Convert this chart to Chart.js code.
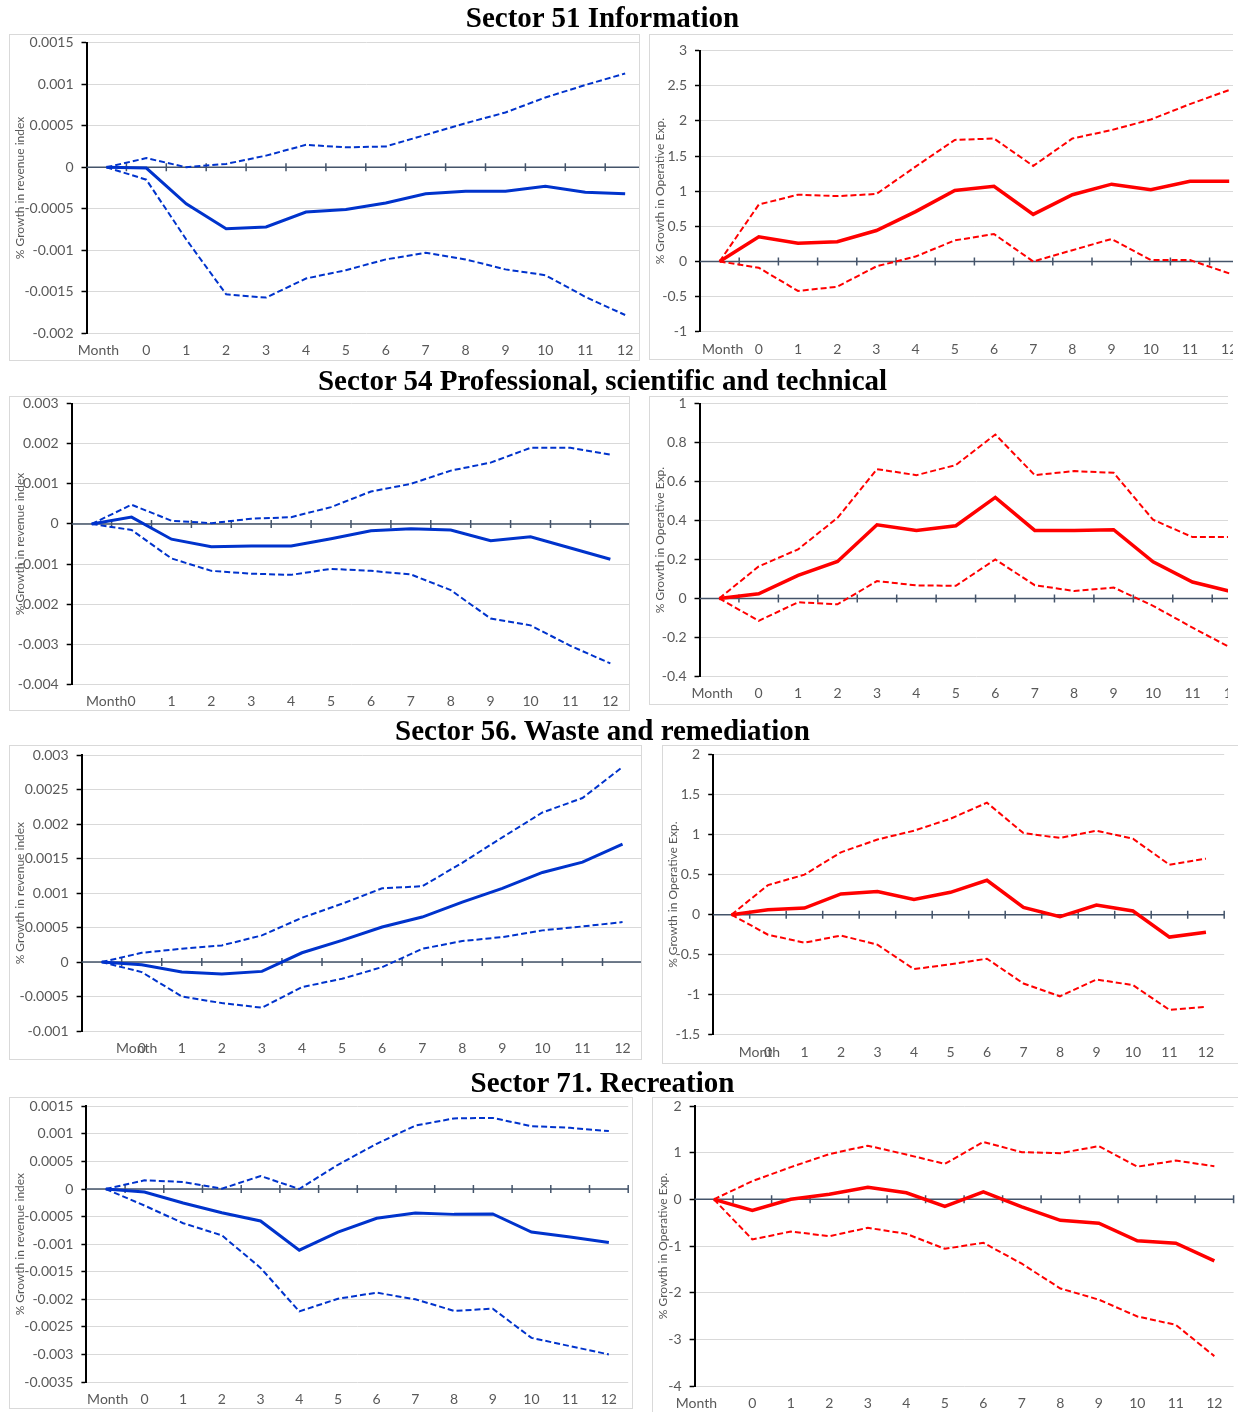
<!DOCTYPE html>
<html>
<head>
<meta charset="utf-8">
<script src="https://cdn.jsdelivr.net/npm/chart.js@4.4.1/dist/chart.umd.min.js"></script>
<style>
  body { margin: 0; width: 1238px; height: 1412px; overflow: hidden; background: #fff; position: relative; }
  .row-title { position: absolute; left: 0; width: 1205px; text-align: center; line-height: 32px;
    font: bold 29px "Liberation Serif", "Times New Roman", serif; color: #000; white-space: nowrap; }
  .panel { position: absolute; overflow: hidden; }
  .frame { position: absolute; border: 1px solid #d9d9d9; box-sizing: border-box; pointer-events: none; }
  canvas { position: absolute; left: 0; top: 0; }
</style>
</head>
<body>
<script>
// x categories (Excel puts "Month" in the first slot)
const months = ["Month", "0", "1", "2", "3", "4", "5", "6", "7", "8", "9", "10", "11", "12"];

// Sector 51 Information
const s51RevMean  = [0, -0.00001, -0.00044, -0.00074, -0.00072, -0.00054, -0.00051, -0.00043, -0.00032, -0.00029, -0.00029, -0.00023, -0.0003, -0.00032];
const s51RevUpper = [0, 0.00011, 0, 0.00004, 0.00014, 0.00027, 0.00024, 0.00025, 0.00039, 0.00053, 0.00066, 0.00084, 0.00099, 0.00113];
const s51RevLower = [0, -0.00015, -0.00087, -0.00153, -0.00157, -0.00134, -0.00124, -0.00111, -0.00103, -0.00111, -0.00123, -0.0013, -0.00156, -0.00178];
const s51OpMean   = [0, 0.35, 0.26, 0.28, 0.44, 0.71, 1.01, 1.07, 0.67, 0.95, 1.10, 1.02, 1.14, 1.14];
const s51OpUpper  = [0, 0.81, 0.95, 0.93, 0.96, 1.35, 1.73, 1.75, 1.36, 1.75, 1.87, 2.02, 2.24, 2.44];
const s51OpLower  = [0, -0.09, -0.42, -0.36, -0.07, 0.07, 0.30, 0.39, 0, 0.16, 0.32, 0.02, 0.02, -0.17];

// Sector 54 Professional, scientific and technical
const s54RevMean  = [0, 0.00017, -0.00038, -0.00057, -0.00055, -0.00055, -0.00037, -0.00017, -0.00012, -0.00015, -0.00042, -0.00032, -0.0006, -0.00088];
const s54RevUpper = [0, 0.00048, 0.00008, 0.00002, 0.00013, 0.00017, 0.00042, 0.00081, 0.001, 0.00133, 0.00153, 0.0019, 0.0019, 0.00173];
const s54RevLower = [0, -0.00015, -0.00086, -0.00117, -0.00124, -0.00127, -0.00112, -0.00117, -0.00126, -0.00165, -0.00236, -0.00253, -0.00304, -0.00348];
const s54OpMean   = [0, 0.024, 0.118, 0.19, 0.378, 0.349, 0.373, 0.519, 0.349, 0.349, 0.353, 0.188, 0.084, 0.034];
const s54OpUpper  = [0, 0.164, 0.252, 0.414, 0.664, 0.633, 0.685, 0.842, 0.633, 0.654, 0.645, 0.404, 0.315, 0.315];
const s54OpLower  = [0, -0.115, -0.02, -0.03, 0.089, 0.067, 0.065, 0.2, 0.068, 0.038, 0.056, -0.038, -0.15, -0.257];

// Sector 56. Waste and remediation
const s56RevMean  = [0, -0.00004, -0.000145, -0.000174, -0.000135, 0.000135, 0.000314, 0.000508, 0.000653, 0.00087, 0.00107, 0.0013, 0.00145, 0.00171];
const s56RevUpper = [0, 0.000135, 0.000193, 0.000242, 0.000387, 0.000643, 0.000846, 0.00107, 0.0011, 0.00144, 0.00181, 0.00217, 0.00238, 0.00283];
const s56RevLower = [0, -0.000145, -0.000498, -0.000595, -0.000662, -0.000363, -0.000242, -0.000073, 0.000193, 0.000305, 0.000363, 0.00046, 0.000517, 0.00058];
const s56OpMean   = [0, 0.063, 0.083, 0.26, 0.29, 0.19, 0.28, 0.43, 0.09, -0.025, 0.12, 0.046, -0.28, -0.22];
const s56OpUpper  = [0, 0.37, 0.5, 0.78, 0.94, 1.05, 1.2, 1.4, 1.02, 0.96, 1.05, 0.95, 0.625, 0.70];
const s56OpLower  = [0, -0.25, -0.35, -0.26, -0.375, -0.68, -0.62, -0.55, -0.86, -1.02, -0.81, -0.88, -1.19, -1.15];

// Sector 71. Recreation
const s71RevMean  = [0, -0.000054, -0.000254, -0.00043, -0.00058, -0.00111, -0.00078, -0.00053, -0.000435, -0.00046, -0.000453, -0.00078, -0.00087, -0.00097];
const s71RevUpper = [0, 0.000157, 0.000127, 0.000006, 0.000236, 0, 0.00044, 0.00082, 0.00115, 0.00128, 0.00129, 0.00114, 0.00111, 0.00105];
const s71RevLower = [0, -0.0003, -0.00062, -0.00084, -0.00143, -0.00222, -0.00199, -0.00188, -0.002, -0.00221, -0.00217, -0.0027, -0.00285, -0.003];
const s71OpMean   = [0, -0.24, 0, 0.11, 0.26, 0.14, -0.15, 0.16, -0.16, -0.45, -0.51, -0.89, -0.94, -1.32];
const s71OpUpper  = [0, 0.39, 0.69, 0.97, 1.15, 0.96, 0.76, 1.23, 1.01, 0.99, 1.14, 0.70, 0.83, 0.71];
const s71OpLower  = [0, -0.86, -0.69, -0.79, -0.61, -0.74, -1.06, -0.93, -1.38, -1.91, -2.15, -2.51, -2.69, -3.36];

const rowTitles = ["Sector 51 Information", "Sector 54 Professional, scientific and technical",
                   "Sector 56. Waste and remediation", "Sector 71. Recreation"];

const BLUE = "#0033cc";
const RED = "#ff0000";
const REV_TITLE = "% Growth in revenue index";
const OP_TITLE = "% Growth in Operative Exp.";

// zero axis with Excel style cross ticks + the offset "Month" label
const excelAxes = {
    id: "excelAxes",
    beforeDatasetsDraw(chart, args, opts) {
        const { ctx, chartArea: a, scales: { x, y } } = chart;
        const y0 = y.getPixelForValue(0);
        const half = (x.getPixelForValue(1) - x.getPixelForValue(0)) / 2;
        ctx.save();
        ctx.strokeStyle = "#44546a";
        ctx.lineWidth = 1.5;
        ctx.beginPath();
        ctx.moveTo(a.left, y0);
        ctx.lineTo(a.right, y0);
        for (let i = 0; i < months.length; i++) {
            const px = x.getPixelForValue(i) + half;
            ctx.moveTo(px, y0 - 4);
            ctx.lineTo(px, y0 + 4);
        }
        ctx.stroke();
        ctx.restore();
    },
    afterDraw(chart, args, opts) {
        const { ctx, scales: { x } } = chart;
        ctx.save();
        ctx.font = "14px Lato";
        ctx.fillStyle = "#595959";
        ctx.textAlign = "center";
        ctx.textBaseline = "middle";
        ctx.fillText(months[0], x.getPixelForValue(0) + opts.shift, x.top + 9 + 8.4);
        ctx.restore();
    },
};

const panels = [
    { box: [9, 34, 631, 327], plotL: 86.5, plotT: 42.7, plotB: 333.3, catW: 39.9, y: [-0.002, 0.0015, 0.0005], shift: -8,
      color: BLUE, title: REV_TITLE, mean: s51RevMean, upper: s51RevUpper, lower: s51RevLower },
    { box: [649, 34, 584, 326], plotL: 700, plotT: 50.7, plotB: 331.7, catW: 39.2, y: [-1, 3, 0.5], shift: 3, open: true,
      color: RED, title: OP_TITLE, mean: s51OpMean, upper: s51OpUpper, lower: s51OpLower },
    { box: [9, 396, 621, 315], plotL: 71.7, plotT: 403.7, plotB: 684.3, catW: 39.9, y: [-0.004, 0.003, 0.001], shift: 15,
      color: BLUE, title: REV_TITLE, mean: s54RevMean, upper: s54RevUpper, lower: s54RevLower },
    { box: [649, 396, 579, 309], plotL: 699.5, plotT: 403.7, plotB: 676.3, catW: 39.44, y: [-0.4, 1, 0.2], shift: -7, open: true,
      color: RED, title: OP_TITLE, mean: s54OpMean, upper: s54OpUpper, lower: s54OpLower },
    { box: [9, 745, 633, 315], plotL: 81.6, plotT: 755.3, plotB: 1031, catW: 40.07, y: [-0.001, 0.003, 0.0005], shift: 35,
      color: BLUE, title: REV_TITLE, mean: s56RevMean, upper: s56RevUpper, lower: s56RevLower },
    { box: [662, 745, 577, 319], plotL: 713.2, plotT: 754.7, plotB: 1034.7, catW: 36.5, y: [-1.5, 2, 0.5], shift: 28,
      color: RED, title: OP_TITLE, mean: s56OpMean, upper: s56OpUpper, lower: s56OpLower },
    { box: [9, 1097, 624, 312], plotL: 86.4, plotT: 1106.3, plotB: 1382, catW: 38.7, y: [-0.0035, 0.0015, 0.0005], shift: 2,
      color: BLUE, title: REV_TITLE, mean: s71RevMean, upper: s71RevUpper, lower: s71RevLower },
    { box: [652, 1097, 587, 316], plotL: 694.6, plotT: 1106, plotB: 1386, catW: 38.5, y: [-4, 2, 1], shift: -17.5,
      color: RED, title: OP_TITLE, mean: s71OpMean, upper: s71OpUpper, lower: s71OpLower },
];

function place(el, box) {
    el.style.left = box[0] + "px";
    el.style.top = box[1] + "px";
    el.style.width = box[2] + "px";
    el.style.height = box[3] + "px";
}

function drawPanel(p) {
    const wrap = document.createElement("div");
    wrap.className = "panel";
    place(wrap, p.box);
    const frame = document.createElement("div");
    frame.className = "frame";
    place(frame, p.box);
    if (p.open) frame.style.borderRight = "none";

    const axisW = p.plotL - p.box[0];
    const areaW = months.length * p.catW;
    const cw = Math.ceil(axisW + areaW) + 2;
    const canvas = document.createElement("canvas");
    canvas.width = cw;
    canvas.height = p.box[3];
    canvas.style.width = cw + "px";
    canvas.style.height = p.box[3] + "px";
    wrap.appendChild(canvas);
    document.body.appendChild(wrap);
    document.body.appendChild(frame);

    const dashed = { borderColor: p.color, borderWidth: 2, borderDash: [6, 3] };
    new Chart(canvas, {
        type: "line",
        data: {
            labels: months,
            datasets: [
                { label: "upper", data: p.upper, ...dashed },
                { label: "lower", data: p.lower, ...dashed },
                { label: "mean", data: p.mean, borderColor: p.color, borderWidth: p.color === RED ? 3.5 : 3 },
            ],
        },
        options: {
            responsive: false,
            animation: false,
            devicePixelRatio: 1,
            layout: { padding: { top: p.plotT - p.box[1], right: cw - axisW - areaW, left: 0, bottom: 0 } },
            elements: { point: { radius: 0 }, line: { tension: 0 } },
            plugins: {
                legend: { display: false },
                tooltip: { enabled: false },
                excelAxes: { shift: p.shift },
            },
            scales: {
                x: {
                    offset: true,
                    grid: { display: false, drawTicks: false },
                    border: { display: false },
                    ticks: {
                        padding: 9,
                        autoSkip: false,
                        maxRotation: 0,
                        color: "#595959",
                        font: { family: "Lato", size: 14 },
                        callback: (v, i) => (i === 0 ? "" : months[i]),
                    },
                    afterFit: (s) => {
                        s.height = p.box[1] + p.box[3] - p.plotB;
                        s.paddingLeft = 0;
                        s.paddingRight = 0;
                    },
                },
                y: {
                    min: p.y[0],
                    max: p.y[1],
                    ticks: {
                        stepSize: p.y[2],
                        padding: 8,
                        color: "#595959",
                        font: { family: "Lato", size: 14 },
                        callback: (v) => String(+v.toFixed(6)),
                    },
                    grid: { color: "#d9d9d9", lineWidth: 1, tickColor: "#000", tickLength: 5, tickWidth: 1.5 },
                    border: { color: "#000", width: 2 },
                    title: {
                        display: true,
                        text: p.title,
                        color: "#595959",
                        font: { family: "Lato", size: 12 },
                        padding: { top: 4, bottom: 0 },
                    },
                    afterFit: (s) => {
                        s.width = axisW;
                        // let the plot reach the panel edges like Excel does
                        s.paddingTop = 0;
                        s.paddingBottom = 0;
                    },
                },
            },
        },
        plugins: [excelAxes],
    });
}

panels.forEach(drawPanel);

// row headings
[17, 380, 730, 1082].forEach((cy, i) => {
    const t = document.createElement("div");
    t.className = "row-title";
    t.style.top = (cy - 16) + "px";
    t.textContent = rowTitles[i];
    document.body.appendChild(t);
});
</script>
</body>
</html>
